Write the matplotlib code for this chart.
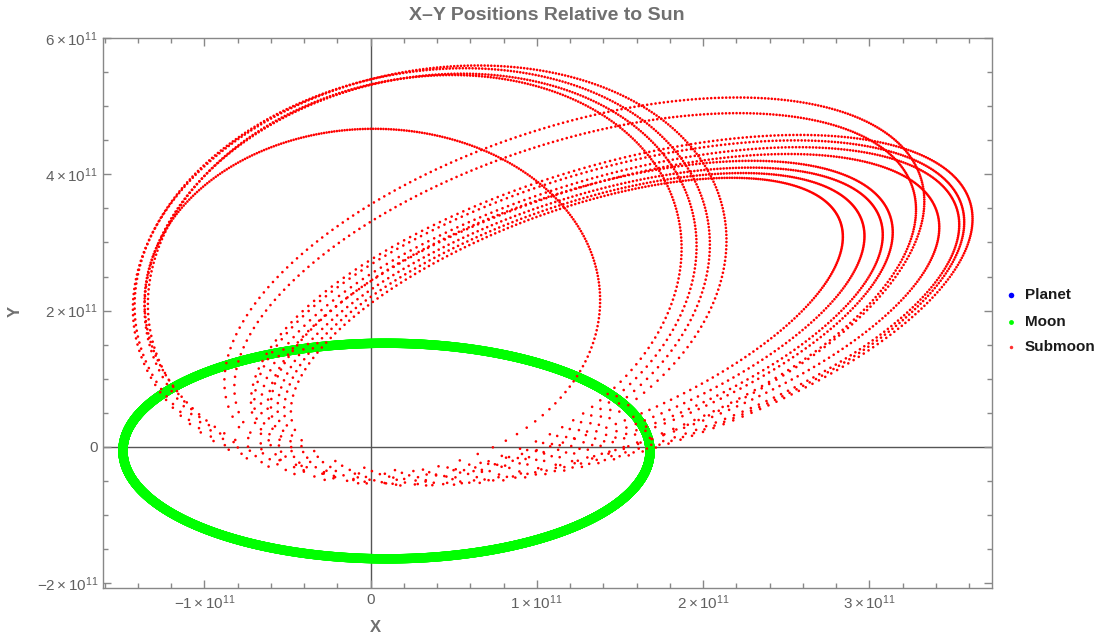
import numpy as np
import matplotlib.pyplot as plt
from matplotlib.lines import Line2D
from matplotlib.ticker import FixedLocator, MultipleLocator

plt.rcParams['font.family'] = ['Liberation Sans', 'DejaVu Sans']
plt.rcParams['mathtext.fontset'] = 'custom'
plt.rcParams['mathtext.rm'] = 'Liberation Sans'
plt.rcParams['mathtext.it'] = 'Liberation Sans:italic'
plt.rcParams['mathtext.bf'] = 'Liberation Sans:bold'

# orbit extents, units of 1e11 m: smallest x, largest x, largest y
planet_xmin, planet_xmax, planet_ymax = -1.49, 1.68, 1.52

submoon_xmin = [-1.43, -1.42, -1.36, -1.34, -1.36, -0.88, -0.82, -0.72,
                -0.70, -0.66, -0.62, -0.60, -0.56, -0.52, -0.48]
submoon_xmax = [2.14, 2.04, 1.96, 1.87, 1.38, 3.33, 3.28, 3.62,
                3.57, 3.54, 3.42, 3.14, 3.08, 2.97, 2.84]
submoon_ymax = [5.60, 5.56, 5.48, 5.46, 4.67, 5.13, 4.90, 4.58,
                4.50, 4.40, 4.30, 4.20, 4.10, 4.02, 3.95]

xticks = [-1e11, 0, 1e11, 2e11, 3e11]
xlabels = [r'$-1\times10^{11}$', '0', r'$1\times10^{11}$', r'$2\times10^{11}$', r'$3\times10^{11}$']
yticks = [-2e11, 0, 2e11, 4e11, 6e11]
ylabels = [r'$-2\times10^{11}$', '0', r'$2\times10^{11}$', r'$4\times10^{11}$', r'$6\times10^{11}$']


def kepler_orbit(xmin, xmax, ymax, n, phase=0.0):
    # ellipse with the sun in one focus, fitted to the three extents
    cx = (xmax + xmin) / 2
    wx = (xmax - xmin) / 2
    cy = (ymax ** 2 - wx ** 2 + cx ** 2) / (2 * ymax)
    wy = ymax - cy
    k2 = cx ** 2 + cy ** 2
    a = np.sqrt((wx ** 2 + wy ** 2 + k2) / 2)
    b = np.sqrt(a ** 2 - k2)
    e = np.sqrt(k2) / a
    th = np.arctan2(cy, cx) + np.pi  # perihelion direction
    M = np.linspace(0, 2 * np.pi, n, endpoint=False) + phase
    E = M.copy()
    for _ in range(40):
        E = E - (E - e * np.sin(E) - M) / (1 - e * np.cos(E))
    px = a * (np.cos(E) - e)
    py = b * np.sin(E)
    x = px * np.cos(th) - py * np.sin(th)
    y = px * np.sin(th) + py * np.cos(th)
    return x * 1e11, y * 1e11


fig = plt.figure(figsize=(11.07, 6.38), dpi=100)
ax = fig.add_axes([0.0932, 0.0779, 0.8029, 0.8621])

ax.axhline(0, color='#555555', lw=1, zorder=1)
ax.axvline(0, color='#555555', lw=1, zorder=1)

px_, py_ = kepler_orbit(planet_xmin, planet_xmax, planet_ymax, 3000)
ax.scatter(px_, py_, s=20, color='#0000ff', edgecolors='none', zorder=2)
ax.scatter(px_, py_, s=46, color='#00ff00', edgecolors='none', zorder=3)

for i in range(len(submoon_xmin)):
    sx, sy = kepler_orbit(submoon_xmin[i], submoon_xmax[i], submoon_ymax[i], 300, phase=0.013 * i)
    ax.scatter(sx, sy, s=3.5, color='#ff0000', edgecolors='none', zorder=4)

ax.set_xlim(-1.609e11, 3.737e11)
ax.set_ylim(-2.08e11, 6.0e11)

ax.xaxis.set_major_locator(FixedLocator(xticks))
ax.set_xticklabels(xlabels)
ax.yaxis.set_major_locator(FixedLocator(yticks))
ax.set_yticklabels(ylabels)
ax.xaxis.set_minor_locator(MultipleLocator(0.2e11))
ax.yaxis.set_minor_locator(MultipleLocator(0.5e11))
ax.tick_params(which='both', direction='in', top=True, right=True, color='#888888', width=1,
               labelsize=11, labelcolor='#606060')
ax.tick_params(which='major', length=6)
ax.tick_params(which='minor', length=3.5)
for sp in ax.spines.values():
    sp.set_color('#888888')
    sp.set_linewidth(1)

fig.text(0.494, 0.976, 'X–Y Positions Relative to Sun', ha='center', va='center',
         fontsize=14, fontweight='bold', color='#707070')
fig.text(0.339, 0.016, 'X', ha='center', va='center', fontsize=12, fontweight='bold', color='#707070')
fig.text(0.014, 0.512, 'Y', ha='center', va='center', rotation=90, fontsize=12,
         fontweight='bold', color='#707070')

# legend
names = ['Planet', 'Moon', 'Submoon']
colors = ['#0000ff', '#00ff00', '#ff3030']
sizes = [4, 3.5, 2.5]
rows = [295, 322, 347]
for name, c, ms, yy in zip(names, colors, sizes, rows):
    fy = 1 - yy / 638
    fig.add_artist(Line2D([1011 / 1107], [fy], marker='o', color=c, markersize=ms,
                          markeredgewidth=0, linestyle='none', transform=fig.transFigure))
    fig.text(1025 / 1107, fy, name, ha='left', va='center', fontsize=11,
             fontweight='bold', color='#1a1a1a')

fig.savefig('out.png', dpi=100)
